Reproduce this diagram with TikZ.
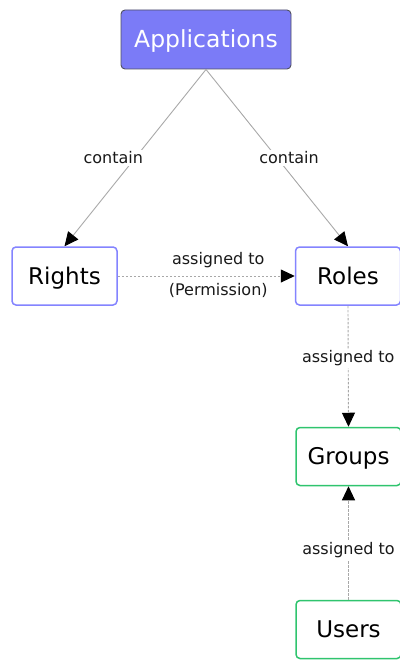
\documentclass[tikz,border=0pt]{standalone}
\usepackage{fontspec}
\setmainfont{DejaVu Sans}
\usetikzlibrary{arrows.meta}
\definecolor{appfill}{HTML}{7B7BF7}
\definecolor{appedge}{HTML}{505060}
\definecolor{blueedge}{HTML}{8484FF}
\definecolor{greenedge}{HTML}{2FC46E}
\definecolor{linkgray}{HTML}{A8A8A8}
\tikzset{
  box/.style={rectangle, rounded corners=4pt, line width=1.5pt, fill=white,
    minimum width=105pt, minimum height=58pt, inner sep=0pt,
    text height=16.8pt, text depth=0pt,
    font=\fontsize{23}{27}\selectfont, text=black},
  appbox/.style={box, draw=appedge, line width=0.9pt, fill=appfill, text=white,
    minimum width=170pt, minimum height=59pt, font=\fontsize{23.5}{27}\selectfont},
  bluebox/.style={box, draw=blueedge},
  greenbox/.style={box, draw=greenedge},
  lbl/.style={font=\fontsize{16}{19}\selectfont, text=black!90, inner sep=2pt},
  wlbl/.style={lbl, fill=white},
  tip/.style={-{Triangle[length=14pt,width=13pt,color=black,fill=black]}},
  containlink/.style={tip, draw=linkgray, line width=0.9pt},
  assignlink/.style={tip, draw=linkgray, line width=0.9pt, dash pattern=on 2.5pt off 1.5pt},
}
\begin{document}
\begin{tikzpicture}[x=1pt, y=-1pt]
\useasboundingbox (0,0) rectangle (399,660);
\node[appbox] (app) at (206,39.5) {Applications};
\node[bluebox] (rights) at (64.5,276) {Rights};
\node[bluebox] (roles) at (348,276) {Roles};
\node[greenbox] (groups) at (348.5,456.5) {Groups};
\node[greenbox] (users) at (348.5,629.5) {Users};

\draw[containlink] (app.south) -- node[wlbl, xshift=-22pt] {contain} (rights.north);
\draw[containlink] (app.south) -- node[wlbl, xshift=12pt] {contain} (roles.north);
\draw[assignlink] (rights.east) --
  node[lbl, yshift=16pt, xshift=12pt] {assigned to}
  node[lbl, yshift=-14pt, xshift=12pt] {(Permission)} (roles.west);
\draw[assignlink] (roles.south) -- node[wlbl, yshift=8pt] {assigned to} (groups.north);
\draw[assignlink] (users.north) -- node[wlbl, yshift=-7pt] {assigned to} (groups.south);
\end{tikzpicture}
\end{document}
